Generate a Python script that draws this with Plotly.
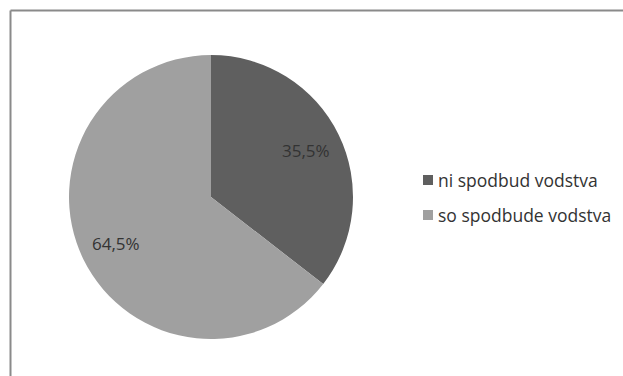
import math
import plotly.graph_objects as go

labels = ["ni spodbud vodstva", "so spodbude vodstva"]
values = [35.5, 64.5]
colors = ["#5f5f5f", "#a0a0a0"]

W, H = 623, 376
FONT = "Open Sans, sans-serif"

# pie geometry in pixels
CX, CY, R = 211, 197, 142

fig = go.Figure()
fig.add_trace(go.Pie(
    labels=labels,
    values=values,
    sort=False,
    direction="clockwise",
    rotation=0,
    marker=dict(colors=colors, line=dict(width=0)),
    textinfo="none",
    showlegend=False,
    hoverinfo="label+percent",
    domain=dict(x=[(CX - R) / W, (CX + R) / W], y=[1 - (CY + R) / H, 1 - (CY - R) / H]),
))

annotations = []

# percentage labels placed at the middle angle of each slice
total = sum(values)
start = 0.0
for v in values:
    mid = (start + v / 2) / total * 2 * math.pi
    start += v
    px = CX + 0.745 * R * math.sin(mid)
    py = CY - 0.745 * R * math.cos(mid)
    annotations.append(dict(
        x=px / W, y=1 - py / H, xref="paper", yref="paper",
        xanchor="center", yanchor="middle", showarrow=False,
        text=f"{v:.1f}".replace(".", ",") + "%",
        font=dict(family=FONT, size=17, color="#333333"),
    ))

# legend: coloured squares with labels
legend_y = [180, 215]
shapes = []
for lab, col, yy in zip(labels, colors, legend_y):
    shapes.append(dict(
        type="rect", xref="paper", yref="paper",
        x0=423 / W, x1=433 / W, y0=1 - (yy + 5) / H, y1=1 - (yy - 5) / H,
        fillcolor=col, line=dict(width=0),
    ))
    annotations.append(dict(
        x=436 / W, y=1 - yy / H, xref="paper", yref="paper",
        xanchor="left", yanchor="middle", showarrow=False,
        text=lab,
        font=dict(family=FONT, size=17.5, color="#333333"),
    ))

# chart frame
shapes += [
    dict(type="line", xref="paper", yref="paper", x0=10.5 / W, x1=1.0, y0=1 - 10.5 / H, y1=1 - 10.5 / H,
         line=dict(color="#8a8a8a", width=2)),
    dict(type="line", xref="paper", yref="paper", x0=10.5 / W, x1=10.5 / W, y0=1 - 10.5 / H, y1=0,
         line=dict(color="#8a8a8a", width=2)),
]

fig.update_layout(
    width=W, height=H,
    margin=dict(l=0, r=0, t=0, b=0),
    paper_bgcolor="white",
    plot_bgcolor="white",
    annotations=annotations,
    shapes=shapes,
)

fig.write_html("out.html")
